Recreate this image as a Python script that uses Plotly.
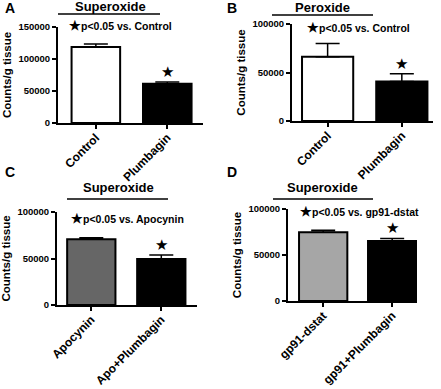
import plotly.graph_objects as go

W, H = 441, 389

# ---- data ----
cats_A = ["Control", "Plumbagin"]
vals_A = [118800, 61500]
err_A = [4500, 2600]

cats_B = ["Control", "Plumbagin"]
vals_B = [66200, 40700]
err_B = [13800, 7900]

cats_C = ["Apocynin", "Apo+Plumbagin"]
vals_C = [70600, 49500]
err_C = [1800, 4300]

cats_D = ["gp91-dstat", "gp91+Plumbagin"]
vals_D = [74700, 65200]
err_D = [2100, 2800]

colors_A = ["white", "black"]
colors_B = ["white", "black"]
colors_C = ["#666666", "black"]
colors_D = ["#a6a6a6", "black"]

titles = ["Superoxide", "Peroxide", "Superoxide", "Superoxide"]
sig_texts = ["p&lt;0.05 vs. Control", "p&lt;0.05 vs. Control",
             "p&lt;0.05 vs. Apocynin", "p&lt;0.05 vs. gp91-dstat"]
letters = ["A", "B", "C", "D"]
ytick_A = [0, 50000, 100000, 150000]
ytick_other = [0, 50000, 100000]

FONT = "Liberation Sans, Arial, sans-serif"


def px(x):
    return x / W


def py(y):
    return 1 - y / H


fig = go.Figure()

panels = [
    # cats, vals, err, colors, xdom(px), ydom(px top,bottom), xrange, ymax, width, yticks
    (cats_A, vals_A, err_A, colors_A, (58, 203), (27, 123), (-0.53, 1.50), 150000, 0.68, ytick_A),
    (cats_B, vals_B, err_B, colors_B, (292, 433), (24, 121), (-0.48, 1.42), 100000, 0.69, ytick_other),
    (cats_C, vals_C, err_C, colors_C, (57, 197), (212, 305), (-0.49, 1.51), 100000, 0.69, ytick_other),
    (cats_D, vals_D, err_D, colors_D, (288, 417), (209, 301), (-0.51, 1.36), 100000, 0.70, ytick_other),
]

for i, (cats, vals, err, cols, xd, yd, xr, ymax, bw, yt) in enumerate(panels):
    n = i + 1
    xa = "x" if n == 1 else f"x{n}"
    ya = "y" if n == 1 else f"y{n}"
    fig.add_trace(go.Bar(
        x=cats, y=vals, width=bw,
        marker=dict(color=cols, line=dict(color="black", width=2)),
        error_y=dict(type="data", symmetric=False, array=err,
                     arrayminus=[0] * len(err), color="black",
                     thickness=1.5, width=12),
        xaxis=xa, yaxis=ya, showlegend=False, hoverinfo="skip",
    ))
    axis_common = dict(showline=True, linecolor="black", linewidth=2,
                       ticks="outside", ticklen=4, tickwidth=1.5, tickcolor="black",
                       showgrid=False, zeroline=False, automargin=False)
    fig.update_layout(**{
        ("xaxis" if n == 1 else f"xaxis{n}"): dict(
            domain=[px(xd[0]), px(xd[1])], range=list(xr), anchor=ya,
            type="category", tickangle=-45, ticklabelstandoff=-3,
            tickfont=dict(family=FONT, size=12, color="black", weight="bold"),
            **axis_common),
        ("yaxis" if n == 1 else f"yaxis{n}"): dict(
            domain=[py(yd[1]), py(yd[0])], range=[0, ymax], anchor=xa,
            tickvals=yt, tickformat="d",
            tickfont=dict(family=FONT, size=9.5, color="black", weight="bold"),
            title=dict(text="Counts/g tissue", standoff=4,
                       font=dict(family=FONT, size=11.5, color="black", weight="bold")),
            **axis_common),
    })
    # significance star above second bar
    fig.add_annotation(x=cats[1], y=vals[1] + err[1], xref=xa, yref=ya,
                       text="★", showarrow=False, yanchor="bottom", yshift=-1,
                       font=dict(family="DejaVu Sans", size=15, color="black"))

# panel titles, underlines, letters and significance notes (positions in px)
title_pos = [(110, 7), (322, 8), (118, 187), (322, 187)]
underline = [(58, 160, 14), (272, 373, 15), (67, 168, 199), (273, 373, 199)]
letter_pos = [(3, 8), (225, 8), (3, 172), (225, 172)]
sig_pos = [(67, 26), (305, 27), (69, 218), (298, 212)]

for t, (tx, ty), (ux0, ux1, uy), L, (lx, ly), (sx, sy), st in zip(
        titles, title_pos, underline, letters, letter_pos, sig_pos, sig_texts):
    fig.add_annotation(x=px(tx), y=py(ty), xref="paper", yref="paper", text=t,
                       showarrow=False, xanchor="center", yanchor="middle",
                       font=dict(family=FONT, size=13, color="black", weight="bold"))
    fig.add_shape(type="line", xref="paper", yref="paper",
                  x0=px(ux0), x1=px(ux1), y0=py(uy), y1=py(uy),
                  line=dict(color="black", width=1.5))
    fig.add_annotation(x=px(lx), y=py(ly), xref="paper", yref="paper", text=L,
                       showarrow=False, xanchor="left", yanchor="middle",
                       font=dict(family=FONT, size=14, color="black", weight="bold"))
    fig.add_annotation(x=px(sx), y=py(sy), xref="paper", yref="paper",
                       text="<span style='font-size:13px'>★</span>" + st,
                       showarrow=False, xanchor="left", yanchor="middle",
                       font=dict(family=FONT, size=10.5, color="black", weight="bold"))

fig.update_layout(width=W, height=H, margin=dict(l=0, r=0, t=0, b=0),
                  plot_bgcolor="white", paper_bgcolor="white",
                  font=dict(family=FONT, color="black"), bargap=0.3)

fig.write_html("out.html", config={"displayModeBar": False},
               post_script="document.body.style.margin='0px';")
